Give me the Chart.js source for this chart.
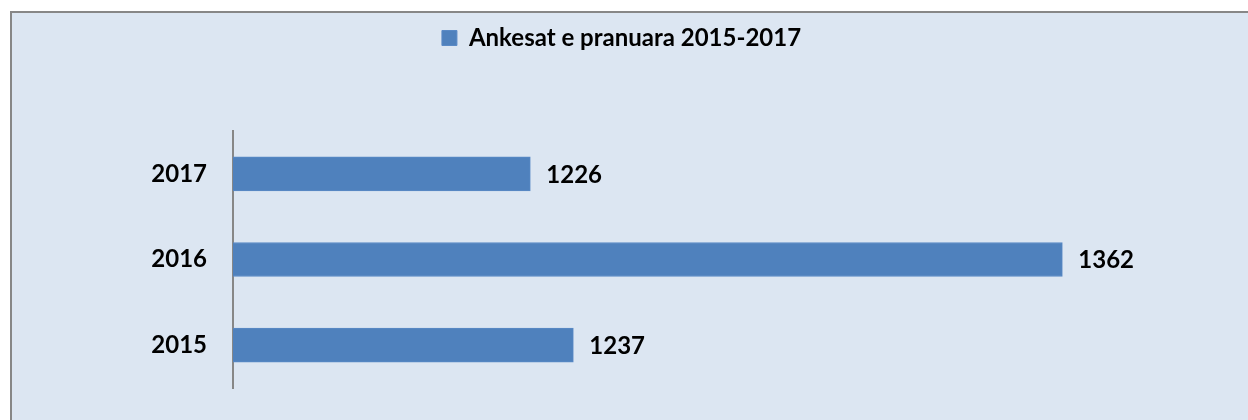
<!DOCTYPE html>
<html>
<head>
<meta charset="utf-8">
<script src="https://cdn.jsdelivr.net/npm/chart.js@4"></script>
<style>
  html, body { margin: 0; padding: 0; background: #fff; overflow: hidden; }
  #frame {
    position: absolute; left: 10px; top: 11px;
    width: 1300px; height: 500px;
    background: #dce6f2;
    border-left: 2px solid #878787; border-top: 2px solid #878787;
  }
  #wrap { position: absolute; left: 0; top: 0; width: 1248px; height: 420px; }
</style>
</head>
<body>
<div id="frame"></div>
<div id="wrap"><canvas id="myChart" width="1248" height="420"></canvas></div>
<script>
  // data
  const years = ['2017', '2016', '2015'];
  const ankesat = [1226, 1362, 1237];
  const seriesName = 'Ankesat e pranuara 2015-2017';

  const font = "Lato, 'Open Sans', sans-serif";

  // values at the end of each bar
  const valueLabels = {
    id: 'valueLabels',
    afterDatasetsDraw(chart) {
      const ctx = chart.ctx;
      const meta = chart.getDatasetMeta(0);
      ctx.save();
      ctx.font = 'bold 24px ' + font;
      ctx.fillStyle = '#000';
      ctx.textBaseline = 'middle';
      ctx.textAlign = 'left';
      meta.data.forEach(function(bar, i) {
        ctx.fillText(ankesat[i], bar.x + 16, bar.y + 1);
      });
      ctx.restore();
    }
  };

  // extra space under the legend
  const legendGap = {
    id: 'legendGap',
    beforeInit(chart) {
      const fit = chart.legend.fit;
      chart.legend.fit = function() {
        fit.bind(chart.legend)();
        this.height += 71;
      };
    }
  };

  const data = {
    labels: years,
    datasets: [{
      label: seriesName,
      data: ankesat,
      backgroundColor: '#4f81bd',
      borderColor: '#5a8ac6',
      borderWidth: 1,
      barThickness: 34
    }]
  };

  const config = {
    type: 'bar',
    data: data,
    options: {
      indexAxis: 'y',
      responsive: false,
      animation: false,
      layout: { padding: { left: 32, right: 37, top: 18, bottom: 32 } },
      plugins: {
        tooltip: { enabled: false },
        legend: {
          position: 'top',
          labels: {
            boxWidth: 15, boxHeight: 15, padding: 8,
            color: '#000',
            font: { family: font, size: 24, weight: 'bold' }
          }
        }
      },
      scales: {
        x: {
          display: false,
          min: 1150, max: 1400
        },
        y: {
          afterFit(scale) {
            scale.width = 201;
            scale.paddingTop = 0;
            scale.paddingBottom = 0;
          },
          grid: { display: false, drawTicks: false },
          border: { display: true, color: '#878787', width: 2 },
          ticks: {
            padding: 26,
            color: '#000',
            font: { family: font, size: 24, weight: 'bold' }
          }
        }
      }
    },
    plugins: [valueLabels, legendGap]
  };

  const myChart = new Chart(document.getElementById('myChart'), config);
</script>
</body>
</html>
